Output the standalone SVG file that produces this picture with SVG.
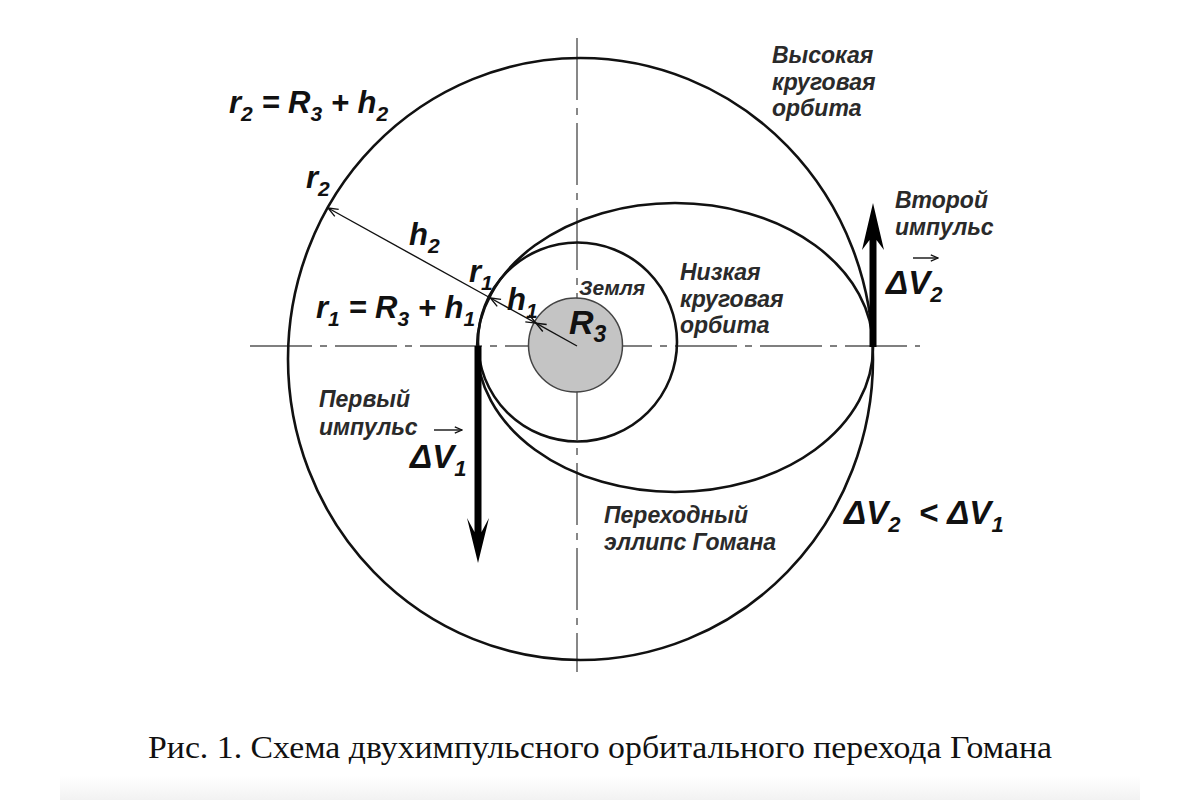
<svg xmlns="http://www.w3.org/2000/svg" width="1200" height="800" viewBox="0 0 1200 800">
<defs>
<style>
.orb{fill:none;stroke:#111;stroke-width:2.6}
.axis{fill:none;stroke:#555;stroke-width:1.4;stroke-dasharray:62 8 7 8}
.rad{fill:none;stroke:#111;stroke-width:1.4}
.f{font-family:"Liberation Sans",Arial,sans-serif;font-weight:bold;font-style:italic;font-size:31px;fill:#111}
.sub{font-size:21px}
.lbl{font-family:"Liberation Sans",Arial,sans-serif;font-weight:bold;font-style:italic;font-size:23px;fill:#2a2a2a}
.cap{font-family:"Liberation Serif","Times New Roman",serif;font-size:32px;fill:#111}
.thick{fill:#000}
</style>
<marker id="oa" viewBox="0 0 12 12" refX="11" refY="6" markerWidth="12" markerHeight="12" markerUnits="userSpaceOnUse" orient="auto-start-reverse">
<path d="M1,2 L11,6 L1,10" fill="none" stroke="#111" stroke-width="1.4"/>
</marker>
<marker id="va" viewBox="0 0 10 10" refX="9" refY="5" markerWidth="9" markerHeight="9" markerUnits="userSpaceOnUse" orient="auto">
<path d="M1,1.5 L9,5 L1,8.5" fill="none" stroke="#111" stroke-width="1.4"/>
</marker>
<linearGradient id="sh" x1="0" y1="0" x2="0" y2="1">
<stop offset="0" stop-color="#fff"/>
<stop offset="1" stop-color="#f2f2f2"/>
</linearGradient>
</defs>
<rect x="0" y="0" width="1200" height="800" fill="#fff"/>
<rect x="60" y="776" width="1080" height="24" fill="url(#sh)"/>

<g id="axes">
<line class="axis" x1="250" y1="346" x2="920" y2="346"/>
<line class="axis" x1="577" y1="38" x2="577" y2="672"/>
</g>

<g id="earth">
<circle cx="575.5" cy="345" r="47" fill="#c4c4c4" stroke="#444" stroke-width="1.5"/>
</g>
<g id="high-orbit">
<ellipse class="orb" cx="580.5" cy="359" rx="292.5" ry="301"/>
</g>
<g id="low-orbit">
<circle class="orb" cx="577.5" cy="342" r="99.5"/>
</g>
<g id="transfer-ellipse">
<ellipse class="orb" cx="675" cy="347.5" rx="198" ry="144.5"/>
</g>

<g id="connectors">
<line class="rad" x1="490.4" y1="298" x2="328" y2="208" marker-end="url(#oa)"/>
<line class="rad" x1="536" y1="323.2" x2="490.4" y2="298" marker-start="url(#oa)" marker-end="url(#oa)"/>
<line class="rad" x1="577" y1="346" x2="536" y2="323.2" marker-end="url(#oa)"/>
<path class="thick" d="M474.5,346 H481.5 V532 L489,518 L478,563 L467,518 L474.5,532 Z"/>
<path class="thick" d="M869.5,347 H876.5 V240 L884,250 L873,203 L862,250 L869.5,240 Z"/>
<line class="rad" x1="434" y1="430" x2="462" y2="430" marker-end="url(#va)"/>
<line class="rad" x1="913" y1="258" x2="938" y2="258" marker-end="url(#va)"/>
</g>

<g id="labels">
<text class="f" x="229" y="113">r<tspan class="sub" dy="8">2</tspan><tspan dy="-8"> = R</tspan><tspan class="sub" dy="8">3</tspan><tspan dy="-8"> + h</tspan><tspan class="sub" dy="8">2</tspan></text>
<text class="f" x="306" y="188">r<tspan class="sub" dy="8">2</tspan></text>
<text class="f" x="409" y="245">h<tspan class="sub" dy="8">2</tspan></text>
<text class="f" x="469" y="282">r<tspan class="sub" dy="8">1</tspan></text>
<text class="f" x="507" y="310">h<tspan class="sub" dy="8">1</tspan></text>
<text class="f" x="316" y="318">r<tspan class="sub" dy="8">1</tspan><tspan dy="-8"> = R</tspan><tspan class="sub" dy="8">3</tspan><tspan dy="-8"> + h</tspan><tspan class="sub" dy="8">1</tspan></text>
<text class="f" x="569" y="334" style="font-size:34px">R<tspan class="sub" dy="8" style="font-size:23px">3</tspan></text>
<text class="lbl" x="579" y="295" style="font-size:21px">Земля</text>
<text class="lbl" x="680" y="280">Низкая</text>
<text class="lbl" x="680" y="307">круговая</text>
<text class="lbl" x="680" y="333">орбита</text>
<text class="lbl" x="772" y="63">Высокая</text>
<text class="lbl" x="772" y="90">круговая</text>
<text class="lbl" x="772" y="116">орбита</text>
<text class="lbl" x="895" y="208">Второй</text>
<text class="lbl" x="895" y="235">импульс</text>
<text class="f" x="886" y="294" style="font-size:33px">ΔV<tspan class="sub" dy="8" style="font-size:22px">2</tspan></text>
<text class="lbl" x="319" y="407">Первый</text>
<text class="lbl" x="319" y="435">импульс</text>
<text class="f" x="410" y="468" style="font-size:33px">ΔV<tspan class="sub" dy="8" style="font-size:22px">1</tspan></text>
<text class="lbl" x="604" y="523">Переходный</text>
<text class="lbl" x="604" y="550">эллипс Гомана</text>
<text class="f" x="844" y="524" style="font-size:33px">ΔV<tspan class="sub" dy="8" style="font-size:22px">2</tspan><tspan dy="-8" xml:space="preserve">  &lt; ΔV</tspan><tspan class="sub" dy="8" style="font-size:22px">1</tspan></text>
<text class="cap" x="148" y="758" textLength="904" lengthAdjust="spacingAndGlyphs">Рис. 1. Схема двухимпульсного орбитального перехода Гомана</text>
</g>
</svg>
